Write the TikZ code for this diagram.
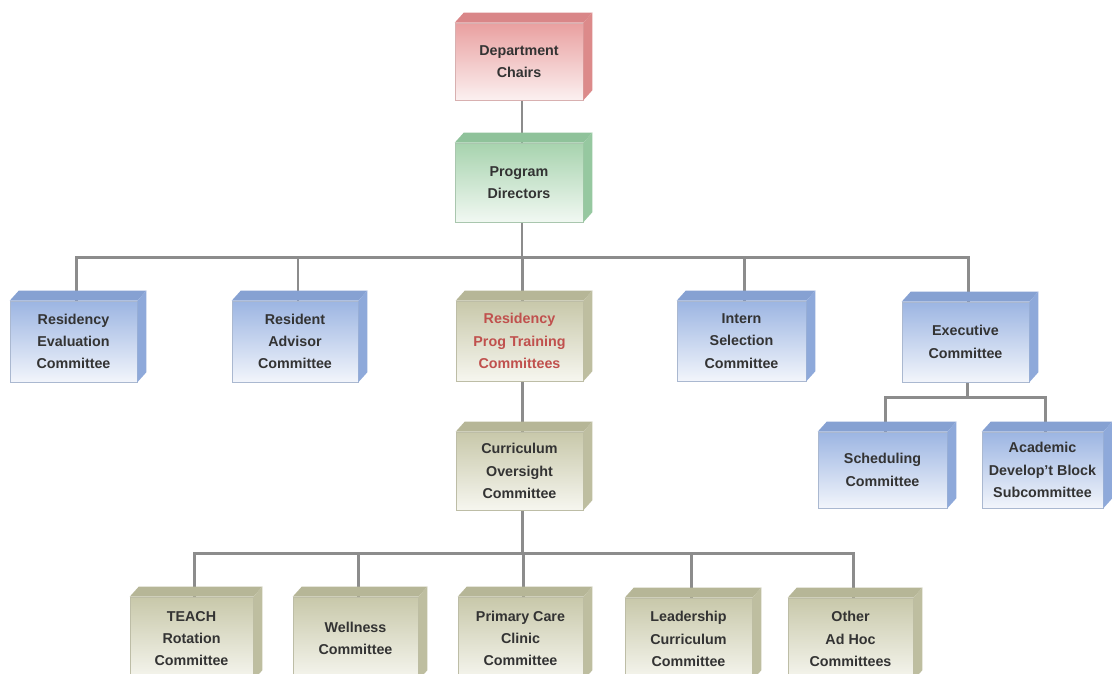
\documentclass[tikz,border=0pt]{standalone}
\usepackage{fontspec}
\setmainfont{Liberation Sans}
\usetikzlibrary{backgrounds}
\definecolor{linegray}{HTML}{8C8C8C}
\definecolor{txt}{HTML}{333333}
\definecolor{txtred}{HTML}{C0504D}
\definecolor{bluefront}{HTML}{9CB5E2}
\definecolor{bluebot}{HTML}{F2F5FB}
\definecolor{blueedge}{HTML}{AAB8D0}
\definecolor{bluetop}{HTML}{86A1D2}
\definecolor{blueside}{HTML}{8EA9DA}
\definecolor{redfront}{HTML}{E9A0A0}
\definecolor{redbot}{HTML}{FBF0F0}
\definecolor{rededge}{HTML}{D8B0B0}
\definecolor{redtop}{HTML}{D98688}
\definecolor{redside}{HTML}{DC8A8A}
\definecolor{greenfront}{HTML}{A7D3AE}
\definecolor{greenbot}{HTML}{F1F8F2}
\definecolor{greenedge}{HTML}{A9C6AE}
\definecolor{greentop}{HTML}{8FC29A}
\definecolor{greenside}{HTML}{96C8A0}
\definecolor{olfront}{HTML}{C8C8AA}
\definecolor{olbot}{HTML}{F6F6EF}
\definecolor{oledge}{HTML}{BDBDA6}
\definecolor{oltop}{HTML}{B6B697}
\definecolor{olside}{HTML}{BEBEA0}
\tikzset{
  boxfront/.style={rectangle, inner sep=0pt, line width=0.6pt, align=center,
    font=\fontsize{14.3}{22.3}\selectfont\bfseries},
  conn/.style={draw=linegray, line width=2.5pt}
}
\newcommand\orgbox[8]{%
  \node[boxfront, top color=#6front, bottom color=#6bot, draw=#6edge, text=#7,
    minimum width={(#4-#2)*1pt}, minimum height={(#5-#3-10)*1pt}]
    (#1) at ({(#2+#4)/2},{(#3+10+#5)/2}) {#8};
  \fill[#6top] (#1.north west) -- ++(9,-10) -- ([shift={(9,-10)}]#1.north east) -- (#1.north east) -- cycle;
  \fill[#6side] (#1.north east) -- ++(9,-10) -- ([shift={(9,-10)}]#1.south east) -- (#1.south east) -- cycle;
}
\begin{document}
\begin{tikzpicture}[x=1pt,y=-1pt]
\useasboundingbox (0,0) rectangle (1112,673);
\begin{scope}
\clip (0,0) rectangle (1112,673);
\orgbox{dept}{455}{13}{583}{100}{red}{txt}{Department\\Chairs}
\orgbox{prog}{455}{133}{583}{222}{green}{txt}{Program\\Directors}
\orgbox{resEval}{10}{291}{137}{382}{blue}{txt}{Residency\\Evaluation\\Committee}
\orgbox{resAdv}{232}{291}{358}{382}{blue}{txt}{Resident\\Advisor\\Committee}
\orgbox{rpt}{456}{291}{583}{381}{ol}{txtred}{Residency\\Prog Training\\Committees}
\orgbox{intern}{677}{291}{806}{381}{blue}{txt}{Intern\\Selection\\Committee}
\orgbox{exec}{902}{292}{1029}{382}{blue}{txt}{Executive\\Committee}
\orgbox{sched}{818}{422}{947}{508}{blue}{txt}{Scheduling\\Committee}
\orgbox{acad}{982}{422}{1103}{508}{blue}{txt}{Academic\\Develop't Block\\Subcommittee}
\orgbox{curric}{456}{422}{583}{510}{ol}{txt}{Curriculum\\Oversight\\Committee}
\orgbox{teach}{130}{587}{253}{680}{ol}{txt}{TEACH\\Rotation\\Committee}
\orgbox{well}{293}{587}{418}{680}{ol}{txt}{Wellness\\Committee}
\orgbox{prim}{458}{587}{583}{680}{ol}{txt}{Primary Care\\Clinic\\Committee}
\orgbox{lead}{625}{588}{752}{680}{ol}{txt}{Leadership\\Curriculum\\Committee}
\orgbox{other}{788}{588}{913}{680}{ol}{txt}{Other\\Ad Hoc\\Committees}
\end{scope}
\begin{scope}[on background layer]
\fill[white] (0,0) rectangle (1112,673);
\draw[conn] ([xshift=3]dept.south) -- ([xshift=3]prog.north);
\path ([xshift=3]prog.south) ++(0,35) coordinate (bus1);
\draw[conn] ([xshift=3]prog.south) -- (bus1);
\foreach \c in {resEval,resAdv,rpt,intern,exec}
  \draw[conn] ([xshift=3]\c.north) |- (bus1);
\path ([xshift=2]exec.south) ++(0,15) coordinate (bus2);
\draw[conn] ([xshift=2]exec.south) -- (bus2);
\foreach \c in {sched,acad}
  \draw[conn] ([xshift=3]\c.north) |- (bus2);
\draw[conn] ([xshift=3]rpt.south) -- ([xshift=3]curric.north);
\path ([xshift=3]curric.south) ++(0,43) coordinate (bus3);
\draw[conn] ([xshift=3]curric.south) -- (bus3);
\foreach \c in {teach,well,prim,lead,other}
  \draw[conn] ([xshift=3]\c.north) |- (bus3);
\end{scope}
\end{tikzpicture}
\end{document}
